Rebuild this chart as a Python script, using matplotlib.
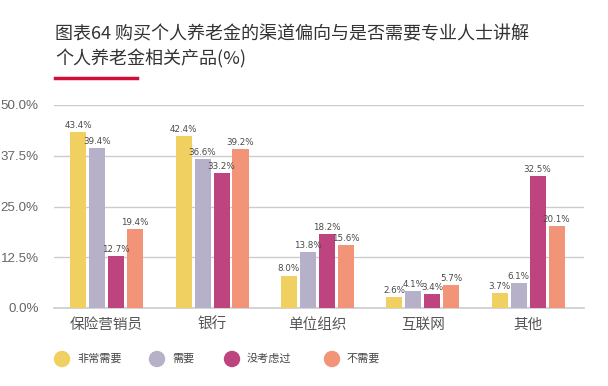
import matplotlib
matplotlib.use("Agg")
import matplotlib.pyplot as plt
import numpy as np

categories = ["保险营销员", "银行", "单位组织", "互联网", "其他"]
series_names = ["非常需要", "需要", "没考虑过", "不需要"]
very_need = [43.4, 42.4, 8.0, 2.6, 3.7]
need = [39.4, 36.6, 13.8, 4.1, 6.1]
not_considered = [12.7, 33.2, 18.2, 3.4, 32.5]
no_need = [19.4, 39.2, 15.6, 5.7, 20.1]
yticks = [0, 12.5, 25, 37.5, 50]
colors = ["#F0D060", "#B6B0C9", "#BE4480", "#F19478"]
title_lines = ["图表64 购买个人养老金的渠道偏向与是否需要专业人士讲解", "个人养老金相关产品(%)"]

plt.rcParams['font.family'] = ['Noto Sans CJK SC', 'DejaVu Sans']

W, H = 608, 386
fig = plt.figure(figsize=(W / 100, H / 100), dpi=100)
ax = fig.add_axes([54 / W, 1 - 308 / H, (584 - 54) / W, (308 - 105) / H])

series = [very_need, need, not_considered, no_need]
x = np.arange(len(categories))
step = 0.18
width = 0.152
for i, (vals, c) in enumerate(zip(series, colors)):
    pos = x + (i - 1.5) * step
    ax.bar(pos, vals, width=width, color=c, zorder=3)
    for px, v in zip(pos, vals):
        ax.text(px, v + 0.5, f"{v:.1f}%", ha='center', va='bottom', fontsize=6.3,
                color='#4a4a4a', family=['Liberation Sans Narrow', 'DejaVu Sans'], zorder=4)

ax.set_xlim(-0.5, 4.53)
ax.set_ylim(0, 50)
ax.set_yticks(yticks)
ax.set_yticklabels([f"{t:.1f}%" for t in yticks], fontsize=9.6, color='#666666',
                   family=['Liberation Sans', 'DejaVu Sans'])
ax.grid(axis='y', color='#CCCCCC', linewidth=1, zorder=0)
ax.set_xticks(x)
ax.set_xticklabels(categories, fontsize=10.5, color='#555555')
ax.tick_params(axis='both', length=0)
ax.tick_params(axis='y', pad=11)
ax.tick_params(axis='x', pad=7)
for s in ['top', 'right', 'left']:
    ax.spines[s].set_visible(False)
ax.spines['bottom'].set_color('#CCCCCC')
ax.spines['bottom'].set_linewidth(1.2)

# title
fig.text(55 / W, 1 - 34 / H, title_lines[0], fontsize=13, color='#333333', va='center', ha='left')
fig.text(55 / W, 1 - 59 / H, title_lines[1], fontsize=13, color='#333333', va='center', ha='left')
fig.add_artist(plt.Line2D([55 / W, 137 / W], [1 - 78 / H, 1 - 78 / H], color='#D0103A', linewidth=2.5))

# legend
leg_x = [62, 157, 232, 332]
for name, c, lx in zip(series_names, colors, leg_x):
    fig.add_artist(matplotlib.patches.Ellipse((lx / W, 1 - 359 / H), 15 / W, 15 / H,
                                              color=c, transform=fig.transFigure))
    fig.text((lx + 15) / W, 1 - 359 / H, name, fontsize=8, color='#444444', va='center', ha='left')

fig.savefig("out.png", dpi=100)
